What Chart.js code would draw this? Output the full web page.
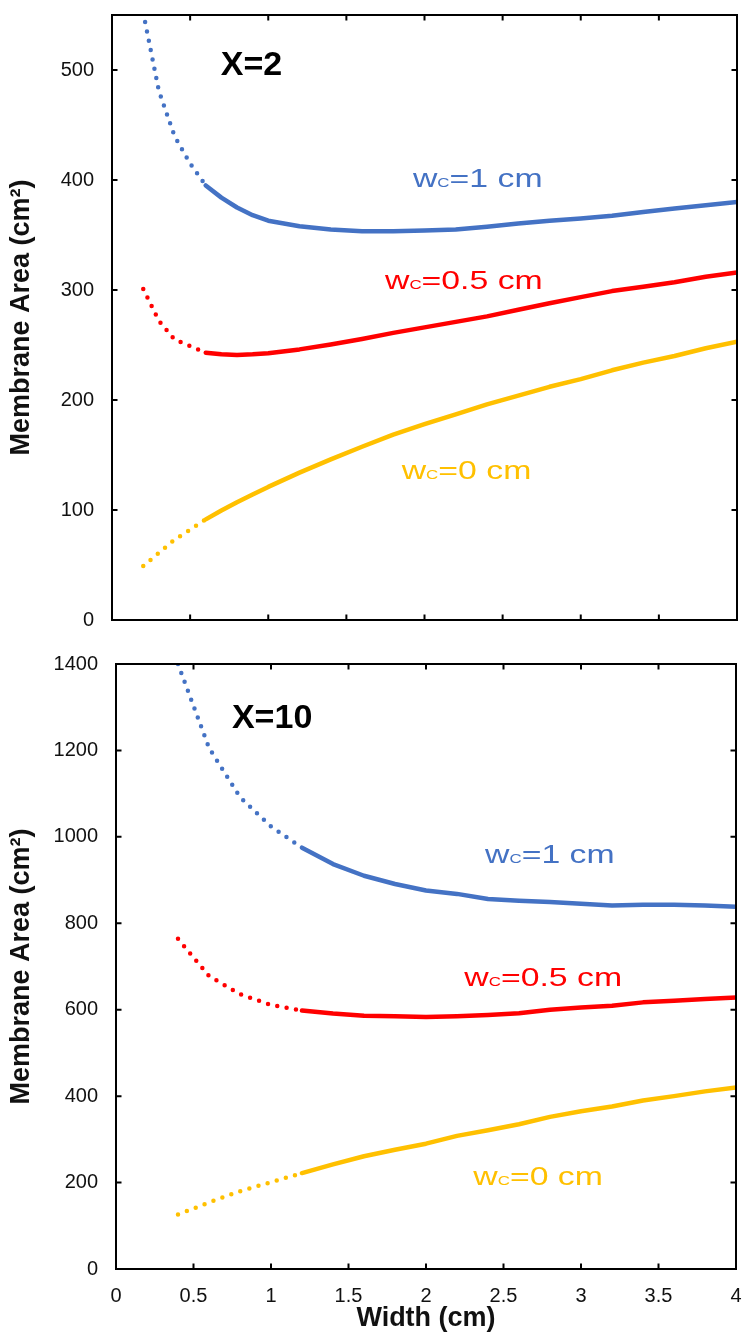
<!DOCTYPE html>
<html>
<head>
<meta charset="utf-8">
<script src="https://cdn.jsdelivr.net/npm/chart.js@4/dist/chart.umd.min.js"></script>
<style>
  html, body { margin: 0; padding: 0; background: #fff; }
  #wrap { position: relative; width: 744px; height: 1341px; }
  .panel { position: absolute; left: 0; width: 744px; }
</style>
</head>
<body>
<div id="wrap">
  <div class="panel" style="top:0;height:640px"><canvas id="topPanel" width="744" height="640"></canvas></div>
  <div class="panel" style="top:640px;height:701px"><canvas id="bottomPanel" width="744" height="701"></canvas></div>
</div>
<script>
// ---- data: membrane area (cm²) against channel width (cm) ----
const widthTop = [0.2, 0.3, 0.4, 0.5, 0.6, 0.7, 0.8, 0.9, 1.0, 1.2, 1.4, 1.6, 1.8, 2.0, 2.2, 2.4, 2.6, 2.8, 3.0, 3.2, 3.4, 3.6, 3.8, 4.0];
const areaTopWc1  = [552, 481, 440, 415, 395, 384, 375, 368, 363, 358, 355, 353.5, 353.5, 354, 355, 357.5, 360.5, 363, 365, 367.5, 371, 374, 377, 380];
const areaTopWc05 = [301, 272, 255, 249, 243, 241.5, 241, 241.5, 242.5, 246, 250.5, 255.5, 261, 266, 271, 276, 282, 288, 293.5, 299, 303, 307, 312, 316];
const areaTopWc0  = [49, 61, 73, 82, 91.5, 99.5, 107, 114, 121, 134, 146, 157.5, 168.5, 178, 187, 196, 204, 212, 219, 227, 234, 240, 247, 253];
const solidFromTop = 0.6;   // narrower widths are drawn dotted

const widthBottom = [0.4, 0.6, 0.8, 1.0, 1.2, 1.4, 1.6, 1.8, 2.0, 2.2, 2.4, 2.6, 2.8, 3.0, 3.2, 3.4, 3.6, 3.8, 4.0];
const areaBottomWc1  = [1400, 1206, 1092, 1024, 975, 937, 910, 891, 876, 868, 856, 852, 849, 845, 841, 843, 843, 841, 838];
const areaBottomWc05 = [764, 678, 636, 611, 598, 591, 586, 585, 583, 585, 588, 592, 600, 605, 609, 617, 621, 625, 628];
const areaBottomWc0  = [126, 154, 180, 201, 222, 242, 261, 276, 290, 308, 321, 335, 352, 365, 376, 390, 400, 411, 420];
const solidFromBottom = 1.2;

const xTicks = [0, 0.5, 1, 1.5, 2, 2.5, 3, 3.5, 4];
const yTicksTop = [0, 100, 200, 300, 400, 500];
const yTicksBottom = [0, 200, 400, 600, 800, 1000, 1200, 1400];

const seriesNames = ['1', '0.5', '0'];   // wc values in cm
const colors = { wc1: '#4472C4', wc05: '#FF0000', wc0: '#FFC000' };

const FONT = "'Liberation Sans', Arial, sans-serif";
const INK = '#111';

function points(xs, ys) { return xs.map((x, i) => ({ x: x, y: ys[i] })); }

function curve(xs, ys, color, solidFrom) {
  return {
    data: points(xs, ys),
    borderColor: color,
    borderWidth: 4.5,
    borderCapStyle: 'round',
    borderJoinStyle: 'round',
    pointRadius: 0,
    tension: 0,
    clip: 0,
    segment: {
      borderDash: ctx => (ctx.p1.parsed.x <= solidFrom + 1e-9 ? [0, 9.5] : undefined)
    }
  };
}

// frame around the plot area with inward-pointing tick marks on all four sides
const frameTicks = {
  id: 'frameTicks',
  afterDatasetsDraw(chart) {
    const { ctx, chartArea: a, scales: { x, y } } = chart;
    const L = 5.5;
    ctx.save();
    ctx.strokeStyle = '#000';
    ctx.lineWidth = 2;
    ctx.beginPath();
    x.ticks.forEach(t => {
      const px = x.getPixelForValue(t.value);
      if (px <= a.left + 1 || px >= a.right - 1) return;
      ctx.moveTo(px, a.bottom); ctx.lineTo(px, a.bottom - L);
      ctx.moveTo(px, a.top); ctx.lineTo(px, a.top + L);
    });
    y.ticks.forEach(t => {
      const py = y.getPixelForValue(t.value);
      if (py <= a.top + 1 || py >= a.bottom - 1) return;
      ctx.moveTo(a.left, py); ctx.lineTo(a.left + L, py);
      ctx.moveTo(a.right, py); ctx.lineTo(a.right - L, py);
    });
    ctx.stroke();
    ctx.strokeRect(a.left, a.top, a.right - a.left, a.bottom - a.top);
    ctx.restore();
  }
};

// in-plot text: panel title and curve captions, anchored in data coordinates
const curveLabels = {
  id: 'curveLabels',
  afterDraw(chart, args, opts) {
    const { ctx, scales: { x, y } } = chart;
    ctx.save();
    ctx.textBaseline = 'alphabetic';
    ctx.textAlign = 'left';
    (opts.items || []).forEach(item => {
      const px = x.getPixelForValue(item.x);
      const py = y.getPixelForValue(item.y);
      ctx.fillStyle = item.color;
      if (item.title) {
        ctx.font = 'bold 34px ' + FONT;
        ctx.fillText(item.title, px, py);
        return;
      }
      ctx.save();
      ctx.translate(px, py);
      ctx.scale(1.3, 1);
      let cx = 0;
      ctx.font = '26px ' + FONT;
      ctx.fillText('w', cx, 0); cx += ctx.measureText('w').width;
      ctx.font = '13px ' + FONT;
      ctx.fillText('C', cx, 0); cx += ctx.measureText('C').width;
      ctx.font = '26px ' + FONT;
      ctx.fillText('=' + item.wc + ' cm', cx, 0);
      ctx.restore();
    });
    ctx.restore();
  }
};

function noOverhang(s) {
  s.paddingTop = 0; s.paddingBottom = 0; s.paddingLeft = 0; s.paddingRight = 0;
}

function makeChart(canvasId, cfg) {
  return new Chart(document.getElementById(canvasId), {
    type: 'line',
    data: { datasets: cfg.datasets },
    options: {
      responsive: false,
      animation: false,
      events: [],
      layout: { padding: cfg.padding },
      plugins: {
        legend: { display: false },
        tooltip: { enabled: false },
        curveLabels: { items: cfg.labels }
      },
      scales: {
        x: {
          type: 'linear',
          min: 0, max: 4,
          afterBuildTicks: s => { s.ticks = xTicks.map(v => ({ value: v })); },
          afterFit: s => { s.height = cfg.xHeight; noOverhang(s); },
          grid: { display: false, drawTicks: false },
          border: { display: false },
          ticks: {
            display: cfg.showX,
            padding: 15,
            color: INK,
            font: { family: FONT, size: 20 },
            maxRotation: 0,
            callback: v => String(v)
          },
          title: {
            display: cfg.showX,
            text: 'Width (cm)',
            color: INK,
            font: { family: FONT, size: 27, weight: 'bold' },
            padding: { top: 0, bottom: 6 }
          }
        },
        y: {
          type: 'linear',
          min: 0, max: cfg.yMax,
          afterBuildTicks: s => { s.ticks = cfg.yTicks.map(v => ({ value: v })); },
          afterFit: s => { s.width = cfg.yWidth; noOverhang(s); },
          grid: { display: false, drawTicks: false },
          border: { display: false },
          ticks: {
            padding: 18,
            color: INK,
            font: { family: FONT, size: 20 },
            callback: v => String(v)
          },
          title: {
            display: true,
            text: 'Membrane Area (cm²)',
            color: INK,
            font: { family: FONT, size: 27, weight: 'bold' },
            padding: { top: 5, bottom: 0 }
          }
        }
      }
    },
    plugins: [frameTicks, curveLabels]
  });
}

makeChart('topPanel', {
  datasets: [
    curve(widthTop, areaTopWc1, colors.wc1, solidFromTop),
    curve(widthTop, areaTopWc05, colors.wc05, solidFromTop),
    curve(widthTop, areaTopWc0, colors.wc0, solidFromTop)
  ],
  padding: { top: 15, right: 7, left: 0, bottom: 0 },
  xHeight: 20,
  yWidth: 112,
  showX: false,
  yMax: 550,
  yTicks: yTicksTop,
  labels: [
    { title: 'X=2', x: 0.696, y: 495.5, color: '#000' },
    { wc: seriesNames[0], x: 1.926, y: 394, color: colors.wc1 },
    { wc: seriesNames[1], x: 1.747, y: 301, color: colors.wc05 },
    { wc: seriesNames[2], x: 1.854, y: 128, color: colors.wc0 }
  ]
});

makeChart('bottomPanel', {
  datasets: [
    curve(widthBottom, areaBottomWc1, colors.wc1, solidFromBottom),
    curve(widthBottom, areaBottomWc05, colors.wc05, solidFromBottom),
    curve(widthBottom, areaBottomWc0, colors.wc0, solidFromBottom)
  ],
  padding: { top: 24, right: 8, left: 0, bottom: 0 },
  xHeight: 72,
  yWidth: 116,
  showX: true,
  yMax: 1400,
  yTicks: yTicksBottom,
  labels: [
    { title: 'X=10', x: 0.748, y: 1252, color: '#000' },
    { wc: seriesNames[0], x: 2.381, y: 939, color: colors.wc1 },
    { wc: seriesNames[1], x: 2.247, y: 656, color: colors.wc05 },
    { wc: seriesNames[2], x: 2.305, y: 194, color: colors.wc0 }
  ]
});
</script>
</body>
</html>
